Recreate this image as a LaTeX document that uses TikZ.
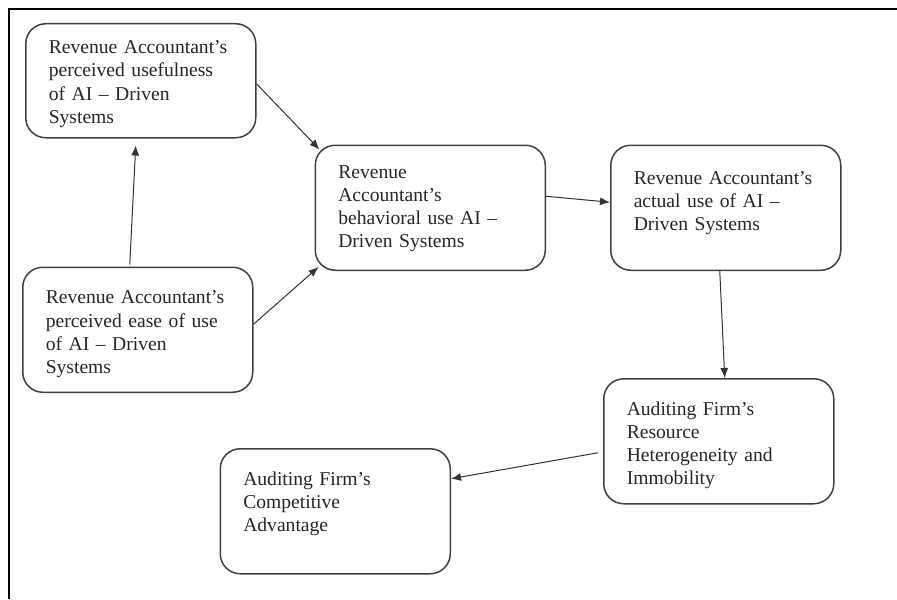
\documentclass[tikz,border=0pt]{standalone}
\usepackage{fontspec}
\setmainfont{Liberation Serif}
\usetikzlibrary{positioning,arrows.meta}

\begin{document}
\begin{tikzpicture}[%
    ->,
    >={Latex[length=5pt,width=4pt]},
    x=0.5pt,
    y=-0.5pt,
    node distance=30pt,
    factor/.style={%
      rectangle,
      rounded corners=10pt,
      draw=black!75,
      line width=0.75pt,
      text=black!85,
      align=left,
      text width=92pt,
      inner xsep=11.5pt,
      inner ysep=0pt,
      font=\fontsize{9.8}{11.6}\selectfont,
      text height=18.3pt,
      text depth=44.2pt
    },
    link/.style={draw=black!80, line width=0.5pt}
  ]
    \useasboundingbox (0,0) rectangle (897,599);
    \draw[-, line width=1pt] (9,599) -- (9,9) -- (897,9);

    \node[factor, anchor=north west, text height=15pt, text depth=42pt] (useful) at (25,23)
      {Revenue Accountant’s\\perceived usefulness\\of AI – Driven\\Systems};
    \node[factor, text height=16.5pt, text depth=46pt] (behav) [below right=3pt and 29pt of useful]
      {Revenue\\Accountant’s\\behavioral use AI –\\Driven Systems};
    \node[factor, text height=19.5pt, text depth=43pt] (actual) [right=32pt of behav]
      {Revenue Accountant’s\\actual use of AI –\\Driven Systems};
    \node[factor] (ease) [below=64pt of useful, xshift=-1.5pt]
      {Revenue Accountant’s\\perceived ease of use\\of AI – Driven\\Systems};
    \node[factor] (resource) [below=53.5pt of actual, xshift=-3.5pt]
      {Auditing Firm’s\\Resource\\Heterogeneity and\\Immobility};
    \node[factor] (compet) [left=76pt of resource, yshift=-35pt]
      {Auditing Firm’s\\Competitive\\Advantage};

    \path ([yshift=-1.5pt]useful.east) edge [link] ([xshift=2.5pt,yshift=-2.5pt]behav.north west)
          ([yshift=2.75pt]ease.east) edge [link] ([xshift=2pt,yshift=2pt]behav.south west)
          ([xshift=-4pt,yshift=1pt]ease.north) edge [link] ([xshift=-2.5pt,yshift=-3.5pt]useful.south)
          ([yshift=5.75pt]behav.east) edge [link] ([yshift=2.75pt]actual.west)
          ([xshift=-3pt]actual.south) edge [link] ([xshift=3pt]resource.north)
          ([xshift=-2.5pt,yshift=-5.75pt]resource.west) edge [link] ([yshift=16.25pt]compet.east)
          ;
\end{tikzpicture}
\end{document}
